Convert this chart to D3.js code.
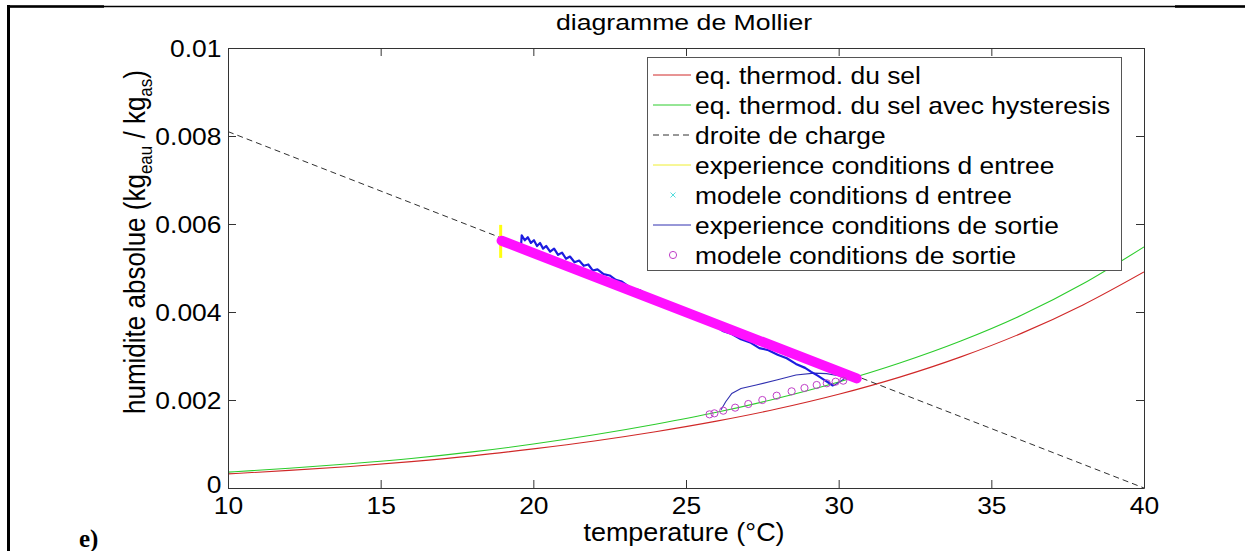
<!DOCTYPE html>
<html>
<head>
<meta charset="utf-8">
<script src="https://cdn.jsdelivr.net/npm/d3@7"></script>
<style>
  html, body { margin: 0; padding: 0; background: #fff; }
  svg { display: block; font-family: "Liberation Sans", Arial, sans-serif; }
</style>
</head>
<body>
<svg id="chart" width="1245" height="551"></svg>
<script>
// ---------------- data ----------------
const xTicks = [10, 15, 20, 25, 30, 35, 40];
const xTickLabels = ["10", "15", "20", "25", "30", "35", "40"];
const yTicks = [0, 0.002, 0.004, 0.006, 0.008, 0.01];
const yTickLabels = ["0", "0.002", "0.004", "0.006", "0.008", "0.01"];

const legendLabels = [
  "eq. thermod. du sel",
  "eq. thermod. du sel avec hysteresis",
  "droite de charge",
  "experience conditions d entree",
  "modele conditions d entree",
  "experience conditions de sortie",
  "modele conditions de sortie"
];

// eq. thermod. du sel (red)
const saltTemp = [10, 12, 14, 16, 18, 20, 22, 24, 26, 28, 30, 32, 34, 36, 38, 40];
const saltHum  = [0.00032, 0.00040, 0.00049, 0.00060, 0.00073, 0.00089, 0.00107, 0.00128,
                  0.00152, 0.00180, 0.00213, 0.00252, 0.00298, 0.00352, 0.00416, 0.00491];
// eq. thermod. du sel avec hysteresis (green)
const hystTemp = [10, 12, 14, 16, 18, 20, 22, 24, 26, 28, 30, 32, 34, 36, 38, 40];
const hystHum  = [0.00036, 0.00045, 0.00055, 0.00067, 0.00082, 0.00100, 0.00121, 0.00145,
                  0.00172, 0.00204, 0.00241, 0.00284, 0.00334, 0.00393, 0.00464, 0.00548];
// droite de charge (dashed)
const loadTemp = [10, 40];
const loadHum  = [0.0081, 0.0];
// experience conditions d entree (yellow)
const expInTemp = [18.93, 18.93];
const expInHum  = [0.00523, 0.00598];
// modele conditions d entree (cyan x)
const modInTemp = [18.96];
const modInHum  = [0.00562];
// experience conditions de sortie (blue): lower loop
const expOutLoopTemp = [26.15, 26.30, 26.50, 26.80, 27.30, 28.00, 28.60, 29.20, 29.60, 30.00, 30.20, 29.82];
const expOutLoopHum  = [0.00178, 0.00196, 0.00215, 0.00226, 0.00234, 0.00246, 0.00257, 0.00261,
                        0.00260, 0.00255, 0.00249, 0.00232];
// experience conditions de sortie (blue): noisy descending trace
const expOutTraceTemp = [19.60, 19.62, 19.72, 19.82, 19.92, 20.02, 20.12, 20.22, 20.32, 20.42,
  20.55, 20.68, 20.81, 20.94, 21.07, 21.20, 21.35, 21.50, 21.65, 21.80, 21.95, 22.10, 22.30,
  22.50, 22.70, 22.90, 23.20, 23.50, 23.80, 24.10, 24.40, 24.70, 25.00, 25.30, 25.60, 25.90,
  26.20, 26.50, 26.80, 27.10, 27.40, 27.70, 28.00, 28.30, 28.60, 28.90, 29.10, 29.30, 29.50,
  29.70, 29.82];
const expOutTraceHum = [0.00553, 0.00574, 0.00563, 0.00570, 0.00557, 0.00563, 0.00550, 0.00557,
  0.00544, 0.00550, 0.00537, 0.00544, 0.00530, 0.00535, 0.00521, 0.00526, 0.00513, 0.00517,
  0.00505, 0.00508, 0.00494, 0.00497, 0.00486, 0.00483, 0.00473, 0.00469, 0.00454, 0.00449,
  0.00436, 0.00430, 0.00417, 0.00410, 0.00398, 0.00391, 0.00377, 0.00371, 0.00357, 0.00350,
  0.00338, 0.00331, 0.00318, 0.00313, 0.00303, 0.00295, 0.00282, 0.00273, 0.00264, 0.00256,
  0.00247, 0.00238, 0.00232];
// modele conditions de sortie (magenta): dense band of circles + isolated circles
const modOutBandTemp = [18.96, 30.59];
const modOutBandHum  = [0.00562, 0.00249];
const modOutTemp = [25.77, 25.93, 26.22, 26.61, 27.04, 27.50, 27.97, 28.46, 28.88, 29.28, 29.61, 29.90, 30.15];
const modOutHum  = [0.001674, 0.001697, 0.001757, 0.001826, 0.001909, 0.002000, 0.002098,
                    0.002197, 0.002273, 0.002341, 0.002380, 0.002416, 0.002439];

// ---------------- drawing ----------------
const svg = d3.select("#chart");
const x = d3.scaleLinear().domain([10, 40]).range([228, 1144]);
const y = d3.scaleLinear().domain([0, 0.01]).range([488, 48]);
const zip = (a, b) => a.map((v, i) => [v, b[i]]);
const line = d3.line().x(d => x(d[0])).y(d => y(d[1]));
const curve = d3.line().x(d => x(d[0])).y(d => y(d[1])).curve(d3.curveMonotoneX);

const C = {
  red: "#d02828", green: "#2ccc2c", dash: "#303030", yellow: "#ffff10",
  cyan: "#55dddd", blue: "#1c1ce0", blueThin: "#3030b0", magenta: "#ff10ff", circ: "#c040c8"
};

// outer page frame
svg.append("line").attr("x1", 8).attr("x2", 1245).attr("y1", 6.5).attr("y2", 6.5)
  .attr("stroke", "#000").attr("stroke-width", 1.3);
svg.append("line").attr("x1", 8).attr("x2", 104).attr("y1", 6.5).attr("y2", 6.5)
  .attr("stroke", "#000").attr("stroke-width", 2.5);
svg.append("line").attr("x1", 1175).attr("x2", 1245).attr("y1", 6.5).attr("y2", 6.5)
  .attr("stroke", "#000").attr("stroke-width", 2.5);
svg.append("line").attr("x1", 8.5).attr("x2", 8.5).attr("y1", 5).attr("y2", 551)
  .attr("stroke", "#000").attr("stroke-width", 3);

const plot = svg.append("g");
svg.append("defs").append("clipPath").attr("id", "clip")
  .append("rect").attr("x", 228).attr("y", 48).attr("width", 916).attr("height", 440);
plot.attr("clip-path", "url(#clip)");

// red
plot.append("path").datum(zip(saltTemp, saltHum)).attr("d", curve)
  .attr("fill", "none").attr("stroke", C.red).attr("stroke-width", 1.1);
// green
plot.append("path").datum(zip(hystTemp, hystHum)).attr("d", curve)
  .attr("fill", "none").attr("stroke", C.green).attr("stroke-width", 1.1);
// dashed
plot.append("path").datum(zip(loadTemp, loadHum)).attr("d", line)
  .attr("fill", "none").attr("stroke", C.dash).attr("stroke-width", 1).attr("stroke-dasharray", "6,4");
// yellow
plot.append("path").datum(zip(expInTemp, expInHum)).attr("d", line)
  .attr("fill", "none").attr("stroke", C.yellow).attr("stroke-width", 3);
// cyan x
const xMark = (g, cx, cy, s, col) => {
  g.append("path").attr("d", `M${cx - s},${cy - s}L${cx + s},${cy + s}M${cx - s},${cy + s}L${cx + s},${cy - s}`)
    .attr("stroke", col).attr("stroke-width", 1);
};
zip(modInTemp, modInHum).forEach(d => xMark(plot, x(d[0]), y(d[1]), 3, C.cyan));
// blue experiment outlet
plot.append("path").datum(zip(expOutLoopTemp, expOutLoopHum)).attr("d", line)
  .attr("fill", "none").attr("stroke", C.blueThin).attr("stroke-width", 1.1);
plot.append("path").datum(zip(expOutTraceTemp, expOutTraceHum)).attr("d", line)
  .attr("fill", "none").attr("stroke", C.blue).attr("stroke-width", 2.2).attr("stroke-linejoin", "round");
// magenta band of model outlet circles
plot.append("path").datum(zip(modOutBandTemp, modOutBandHum)).attr("d", line)
  .attr("fill", "none").attr("stroke", C.magenta).attr("stroke-width", 10).attr("stroke-linecap", "round");
plot.selectAll("circle.mo").data(zip(modOutTemp, modOutHum)).enter().append("circle")
  .attr("class", "mo").attr("cx", d => x(d[0])).attr("cy", d => y(d[1])).attr("r", 3.6)
  .attr("fill", "none").attr("stroke", C.circ).attr("stroke-width", 1);

// axes
const axisCol = "#333";
const styleAxis = g => {
  g.select(".domain").attr("stroke", axisCol).attr("stroke-width", 1);
  g.selectAll(".tick line").attr("stroke", axisCol);
};
const gx = svg.append("g").attr("transform", "translate(0,488)")
  .call(d3.axisBottom(x).tickValues(xTicks).tickFormat((d, i) => xTickLabels[i])
    .tickSizeInner(-8).tickSizeOuter(0).tickPadding(9));
const gxt = svg.append("g").attr("transform", "translate(0,48)")
  .call(d3.axisTop(x).tickValues(xTicks).tickFormat("").tickSizeInner(-8).tickSizeOuter(0));
const gy = svg.append("g").attr("transform", "translate(228,0)")
  .call(d3.axisLeft(y).tickValues(yTicks).tickFormat((d, i) => yTickLabels[i])
    .tickSizeInner(-8).tickSizeOuter(0).tickPadding(6));
const gyr = svg.append("g").attr("transform", "translate(1144,0)")
  .call(d3.axisRight(y).tickValues(yTicks).tickFormat("").tickSizeInner(-8).tickSizeOuter(0));
[gx, gxt, gy, gyr].forEach(styleAxis);
[gx, gy].forEach(g => g.selectAll(".tick text")
  .attr("font-family", "'Liberation Sans', Arial, sans-serif").attr("font-size", 24)
  .attr("fill", "#000").attr("transform", "scale(1.1,1)"));
gy.selectAll(".tick text").attr("dy", (d, i) => i === 0 ? "0.17em" : "0.34em");

// text helper
const addText = (str, tx, ty, size, sx, anchor) =>
  svg.append("text").attr("transform", `translate(${tx},${ty}) scale(${sx},1)`)
    .attr("text-anchor", anchor).attr("font-size", size).attr("fill", "#000").text(str);
// title
addText("diagramme de Mollier", 684, 30, 21.5, 1.24, "middle");
// x label
addText("temperature (°C)", 684, 541, 25, 1.08, "middle");
// y label
const yl = svg.append("text").attr("transform", "translate(145,242) rotate(-90) scale(1,1.1)")
  .attr("text-anchor", "middle").attr("font-size", 26).attr("fill", "#000");
yl.append("tspan").text("humidite absolue (kg");
yl.append("tspan").attr("font-size", 17).attr("dy", 6).text("eau");
yl.append("tspan").attr("dy", -6).text(" / kg");
yl.append("tspan").attr("font-size", 17).attr("dy", 6).text("as");
yl.append("tspan").attr("dy", -6).text(")");
// e)
svg.append("text").attr("x", 79).attr("y", 547).attr("font-family", "'Liberation Serif', 'Times New Roman', serif")
  .attr("font-weight", "bold").attr("font-size", 25).attr("fill", "#000").text("e)");

// legend
const lg = svg.append("g");
lg.append("rect").attr("x", 647.5).attr("y", 57.5).attr("width", 474).attr("height", 213)
  .attr("fill", "#fff").attr("stroke", "#555").attr("stroke-width", 1);
const rowY = i => 75 + i * 30;
const lx1 = 653, lx2 = 691, mx = 673;
const sampleLine = (i, col, dash, w) => {
  const s = lg.append("line").attr("x1", lx1).attr("x2", lx2).attr("y1", rowY(i)).attr("y2", rowY(i))
    .attr("stroke", col).attr("stroke-width", w || 1);
  if (dash) s.attr("stroke-dasharray", dash);
};
sampleLine(0, C.red);
sampleLine(1, C.green);
sampleLine(2, C.dash, "6,4");
sampleLine(3, "#eeee30");
xMark(lg, mx, rowY(4), 2.5, C.cyan);
sampleLine(5, C.blueThin);
lg.append("circle").attr("cx", mx).attr("cy", rowY(6)).attr("r", 3.6)
  .attr("fill", "none").attr("stroke", C.circ).attr("stroke-width", 1);
legendLabels.forEach((s, i) => {
  lg.append("text").attr("transform", `translate(695,${rowY(i) + 8.5}) scale(1.1,1)`)
    .attr("font-size", 24).attr("fill", "#000").text(s);
});
</script>
</body>
</html>
